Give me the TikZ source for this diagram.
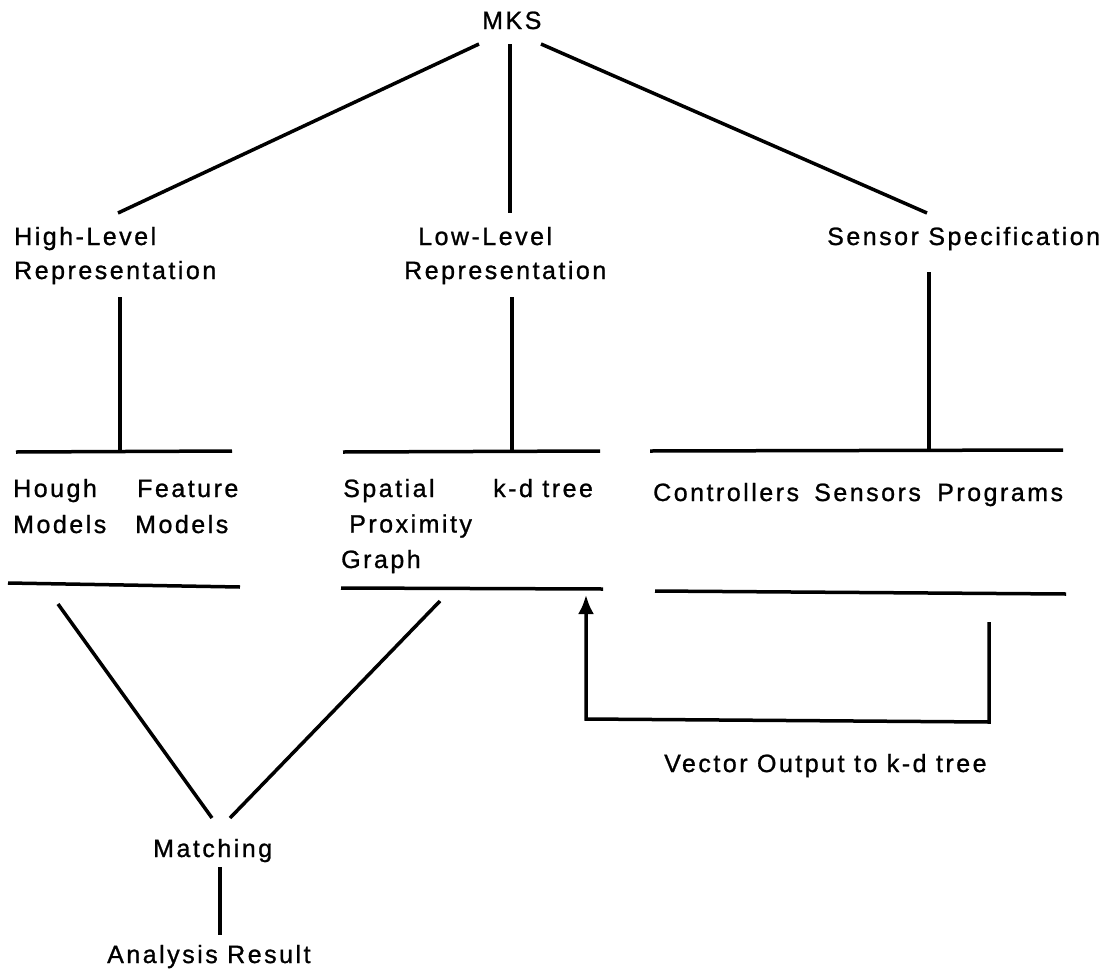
\documentclass[tikz,border=0pt]{standalone}
\usepackage{fontspec}
\setmainfont{Liberation Sans}[LetterSpace=10,FakeBold=1]
\usetikzlibrary{arrows.meta}
\begin{document}
\begin{tikzpicture}[x=1pt,y=-1pt,
  lbl/.style={anchor=base west,inner sep=0pt,align=left,font=\fontsize{25}{36}\selectfont},
  tight/.style={font=\fontsize{25}{34}\selectfont},
  ln/.style={line width=3.5pt},
  ]
\useasboundingbox[fill=white] (0,0) rectangle (1111,972);
% labels (base = baseline of the last line)
\node[lbl] (mks) at (482,29) {MKS};
\node[lbl,tight] (high) at (14,279) {High-Level\\Representation};
\node[lbl,tight] (low) at (404,279) {\hspace{14pt}Low-Level\\Representation};
\node[lbl] (sensor) at (827,245) {Sensor Specification};
\node[lbl] (hough) at (13,533) {Hough\\Models};
\node[lbl] (feature) at (135,533) {\hspace{2pt}Feature\\Models};
\node[lbl,font=\fontsize{25}{35.5}\selectfont] (spatial) at (341,568) {\hspace{2pt}Spatial\\\hspace{8pt}Proximity\\Graph};
\node[lbl] (kd) at (493,497) {k-d tree};
\node[lbl] (controllers) at (653,501) {Controllers};
\node[lbl] (sensors) at (814,501) {Sensors};
\node[lbl] (programs) at (937,501) {Programs};
\node[lbl] (vector) at (664,772) {Vector Output to k-d tree};
\node[lbl] (matching) at (153,857) {Matching};
\node[lbl] (analysis) at (107,963) {Analysis Result};
% coordinates
\coordinate (mL) at (479,44);
\coordinate (mM) at (510,44);
\coordinate (mR) at (541,44);
\coordinate (hT) at (118,213);
\coordinate (lT) at (510,213);
\coordinate (sT) at (927,213);
\coordinate (hA) at (120,297);
\coordinate (hB) at (120,451);
\coordinate (lA) at (512,297);
\coordinate (lB) at (512,451);
\coordinate (sA) at (929,272);
\coordinate (sB) at (929,451);
\coordinate (b1L) at (16,452);  \coordinate (b1R) at (232,451);
\coordinate (b2L) at (343,452); \coordinate (b2R) at (600,451);
\coordinate (b3L) at (650,451); \coordinate (b3R) at (1063,450);
\coordinate (c1L) at (8,583);   \coordinate (c1R) at (240,587);
\coordinate (c2L) at (341,588); \coordinate (c2R) at (603,589);
\coordinate (c3L) at (655,591); \coordinate (c3R) at (1066,594);
\coordinate (vA) at (989,622);
\coordinate (vB) at (989,722);
\coordinate (vC) at (586,719);
\coordinate (vD) at (586,595);
\coordinate (dL) at (58,604);
\coordinate (dR) at (440,601);
\coordinate (mtL) at (212,818);
\coordinate (mtR) at (230,818);
\coordinate (rA) at (220,867);
\coordinate (rB) at (220,935);
% lines
\draw[ln] (mL) -- (hT);
\draw[ln] (mM) -- (lT);
\draw[ln] (mR) -- (sT);
\draw[ln] (hA) -- (hB);
\draw[ln] (lA) -- (lB);
\draw[ln] (sA) -- (sB);
\draw[ln] (b1L) -- (b1R);
\draw[ln] (b2L) -- (b2R);
\draw[ln] (b3L) -- (b3R);
\draw[ln] (c1L) -- (c1R);
\draw[ln] (c2L) -- (c2R);
\draw[ln] (c3L) -- (c3R);
\draw[ln,-{Latex[length=19pt,width=16pt]}] (vA) -- (vB) -- (vC) -- (vD);
\draw[ln] (dL) -- (mtL);
\draw[ln] (dR) -- (mtR);
\draw[ln] (rA) -- (rB);
\end{tikzpicture}
\end{document}
